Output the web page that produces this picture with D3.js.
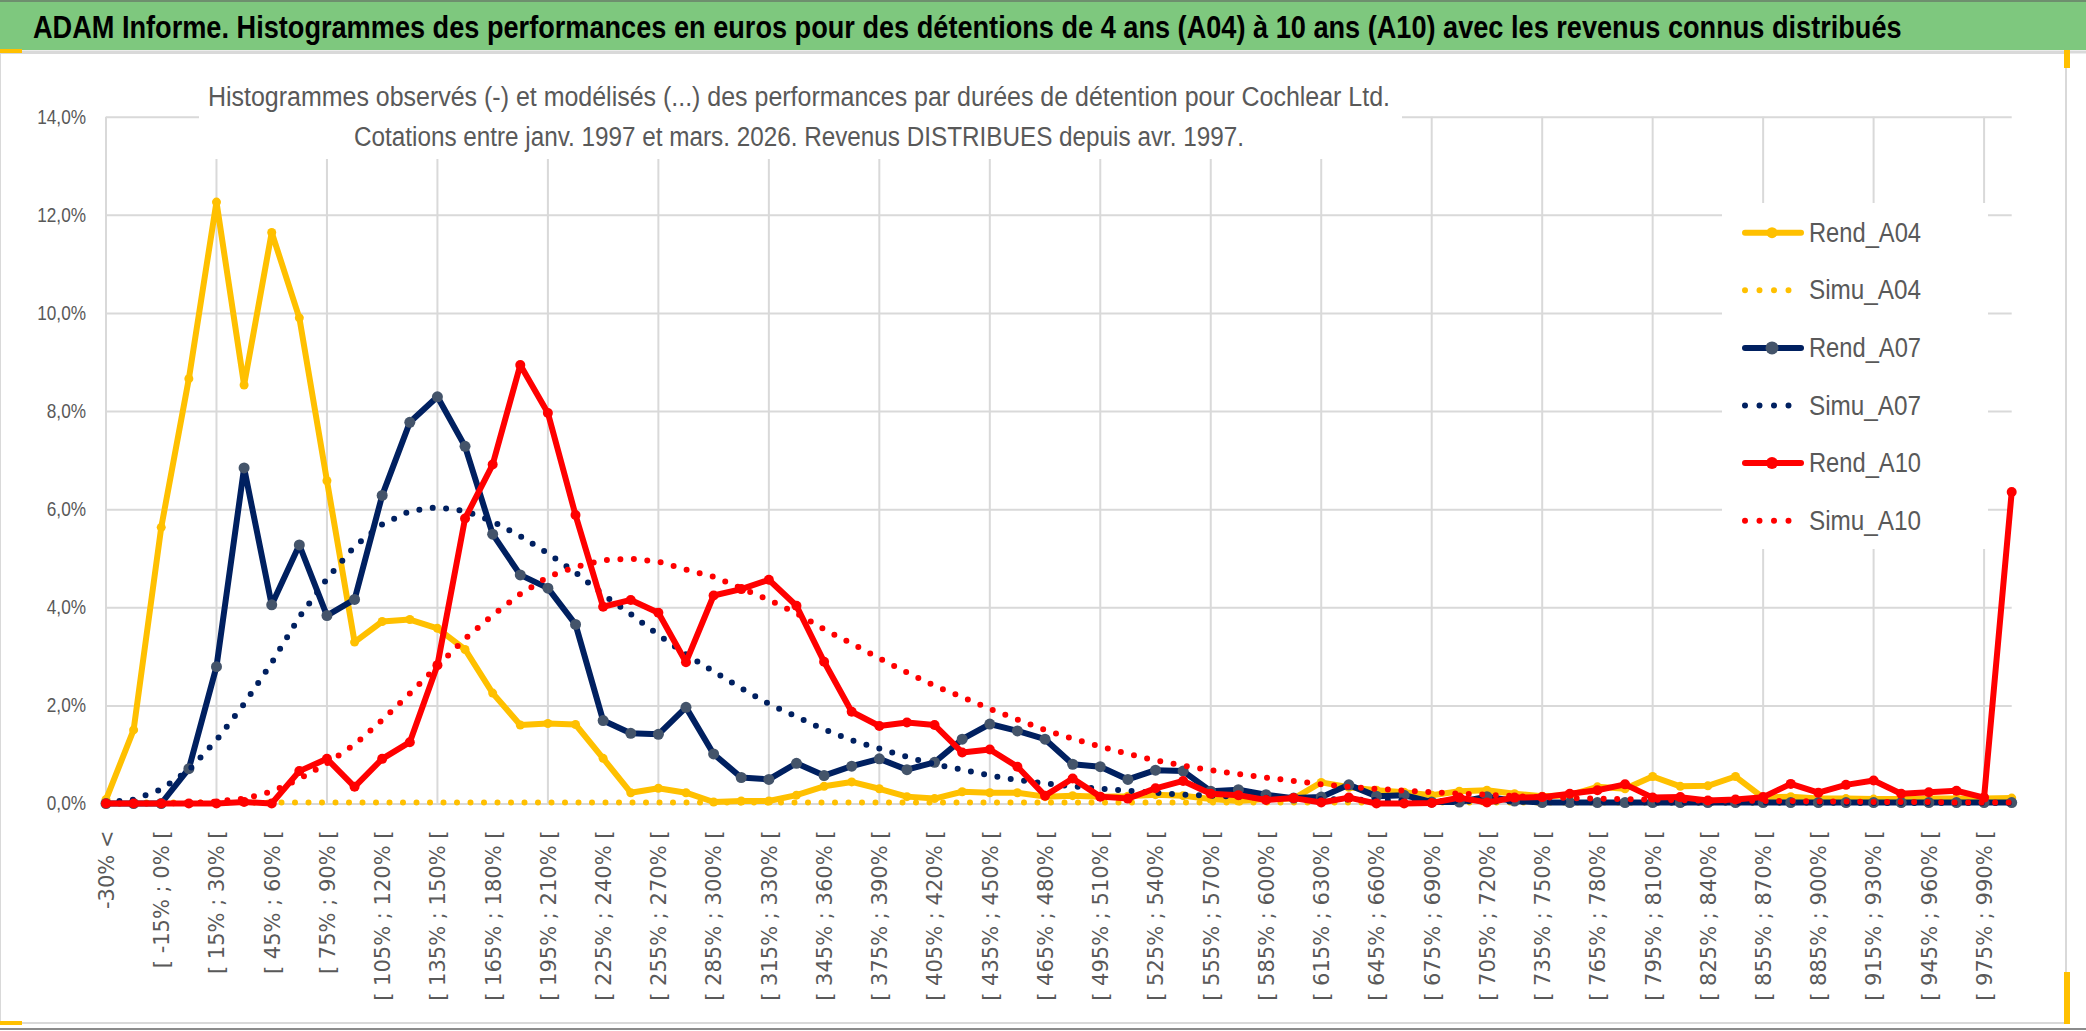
<!DOCTYPE html>
<html>
<head>
<meta charset="utf-8">
<script src="https://cdn.jsdelivr.net/npm/d3@7"></script>
<style>
  body { margin: 0; background: #fff; }
  svg { display: block; }
</style>
</head>
<body>
<div id="vis1"></div>
<script>
// x categories (performance bins)
let categories = [
  "-30% <", "[ -30% ; -15% [", "[ -15% ; 0% [", "[ 0% ; 15% [", "[ 15% ; 30% [", "[ 30% ; 45% [",
  "[ 45% ; 60% [", "[ 60% ; 75% [", "[ 75% ; 90% [", "[ 90% ; 105% [", "[ 105% ; 120% [", "[ 120% ; 135% [",
  "[ 135% ; 150% [", "[ 150% ; 165% [", "[ 165% ; 180% [", "[ 180% ; 195% [", "[ 195% ; 210% [", "[ 210% ; 225% [",
  "[ 225% ; 240% [", "[ 240% ; 255% [", "[ 255% ; 270% [", "[ 270% ; 285% [", "[ 285% ; 300% [", "[ 300% ; 315% [",
  "[ 315% ; 330% [", "[ 330% ; 345% [", "[ 345% ; 360% [", "[ 360% ; 375% [", "[ 375% ; 390% [", "[ 390% ; 405% [",
  "[ 405% ; 420% [", "[ 420% ; 435% [", "[ 435% ; 450% [", "[ 450% ; 465% [", "[ 465% ; 480% [", "[ 480% ; 495% [",
  "[ 495% ; 510% [", "[ 510% ; 525% [", "[ 525% ; 540% [", "[ 540% ; 555% [", "[ 555% ; 570% [", "[ 570% ; 585% [",
  "[ 585% ; 600% [", "[ 600% ; 615% [", "[ 615% ; 630% [", "[ 630% ; 645% [", "[ 645% ; 660% [", "[ 660% ; 675% [",
  "[ 675% ; 690% [", "[ 690% ; 705% [", "[ 705% ; 720% [", "[ 720% ; 735% [", "[ 735% ; 750% [", "[ 750% ; 765% [",
  "[ 765% ; 780% [", "[ 780% ; 795% [", "[ 795% ; 810% [", "[ 810% ; 825% [", "[ 825% ; 840% [", "[ 840% ; 855% [",
  "[ 855% ; 870% [", "[ 870% ; 885% [", "[ 885% ; 900% [", "[ 900% ; 915% [", "[ 915% ; 930% [", "[ 930% ; 945% [",
  "[ 945% ; 960% [", "[ 960% ; 975% [", "[ 975% ; 990% [", "> 990%"
];

// observed and modelled frequencies, in %
let rendA04 = [
  0.08, 1.50, 5.63, 8.66, 12.26, 8.53, 11.64, 9.90, 6.58, 3.29,
  3.71, 3.75, 3.57, 3.14, 2.25, 1.60, 1.63, 1.61, 0.92, 0.22,
  0.31, 0.22, 0.03, 0.05, 0.05, 0.17, 0.35, 0.44, 0.30, 0.14,
  0.10, 0.24, 0.22, 0.22, 0.14, 0.16, 0.14, 0.15, 0.18, 0.16,
  0.09, 0.05, 0.09, 0.10, 0.43, 0.33, 0.27, 0.23, 0.17, 0.25,
  0.27, 0.20, 0.15, 0.17, 0.34, 0.30, 0.55, 0.35, 0.36, 0.55,
  0.12, 0.14, 0.10, 0.10, 0.09, 0.09, 0.10, 0.10, 0.10, 0.11
];
let simuA04 = [
  0.02, 0.02, 0.02, 0.02, 0.02, 0.02, 0.02, 0.02, 0.02, 0.02,
  0.02, 0.02, 0.02, 0.02, 0.02, 0.02, 0.02, 0.02, 0.02, 0.02,
  0.02, 0.02, 0.02, 0.02, 0.02, 0.02, 0.02, 0.02, 0.02, 0.02,
  0.02, 0.02, 0.02, 0.02, 0.02, 0.02, 0.02, 0.02, 0.02, 0.02,
  0.02, 0.02, 0.02, 0.02, 0.02, 0.02, 0.02, 0.02, 0.02, 0.02,
  0.02, 0.02, 0.02, 0.02, 0.02, 0.02, 0.02, 0.02, 0.02, 0.02,
  0.02, 0.02, 0.02, 0.02, 0.02, 0.02, 0.02, 0.02, 0.02, 0.02
];
let rendA07 = [
  0.00, 0.00, 0.00, 0.71, 2.79, 6.84, 4.05, 5.27, 3.83, 4.16,
  6.28, 7.77, 8.29, 7.28, 5.49, 4.66, 4.39, 3.65, 1.69, 1.43,
  1.41, 1.96, 1.01, 0.53, 0.49, 0.82, 0.57, 0.76, 0.91, 0.69,
  0.84, 1.31, 1.62, 1.48, 1.31, 0.80, 0.75, 0.49, 0.68, 0.66,
  0.25, 0.28, 0.18, 0.11, 0.13, 0.38, 0.15, 0.17, 0.03, 0.03,
  0.14, 0.05, 0.02, 0.02, 0.02, 0.02, 0.02, 0.02, 0.02, 0.02,
  0.02, 0.02, 0.02, 0.02, 0.02, 0.02, 0.02, 0.02, 0.02, 0.02
];
let simuA07 = [
  0.02, 0.08, 0.29, 0.68, 1.29, 2.03, 2.87, 3.80, 4.58, 5.24,
  5.69, 5.96, 6.04, 5.96, 5.75, 5.45, 5.10, 4.71, 4.26, 3.86,
  3.44, 3.04, 2.69, 2.35, 2.03, 1.77, 1.51, 1.29, 1.12, 0.95,
  0.80, 0.69, 0.57, 0.48, 0.41, 0.35, 0.30, 0.26, 0.22, 0.18,
  0.16, 0.14, 0.12, 0.10, 0.09, 0.08, 0.07, 0.06, 0.05, 0.05,
  0.04, 0.04, 0.03, 0.03, 0.03, 0.03, 0.02, 0.02, 0.02, 0.02,
  0.02, 0.02, 0.02, 0.01, 0.01, 0.01, 0.01, 0.01, 0.01, 0.01
];
let rendA10 = [
  0.00, 0.00, 0.00, 0.00, 0.00, 0.03, 0.00, 0.66, 0.91, 0.34,
  0.91, 1.25, 2.82, 5.81, 6.91, 8.94, 7.96, 5.88, 4.01, 4.15,
  3.89, 2.88, 4.24, 4.37, 4.56, 4.03, 2.89, 1.87, 1.58, 1.65,
  1.60, 1.04, 1.10, 0.75, 0.16, 0.51, 0.14, 0.10, 0.31, 0.46,
  0.20, 0.17, 0.07, 0.11, 0.02, 0.12, 0.00, 0.00, 0.01, 0.12,
  0.02, 0.12, 0.13, 0.20, 0.27, 0.39, 0.12, 0.13, 0.06, 0.08,
  0.13, 0.40, 0.22, 0.38, 0.47, 0.20, 0.23, 0.26, 0.12, 6.35
];
let simuA10 = [
  0.00, 0.00, 0.00, 0.01, 0.04, 0.10, 0.24, 0.50, 0.82, 1.20,
  1.70, 2.24, 2.80, 3.36, 3.84, 4.27, 4.62, 4.82, 4.96, 4.99,
  4.93, 4.77, 4.62, 4.39, 4.15, 3.88, 3.55, 3.26, 2.96, 2.67,
  2.40, 2.17, 1.93, 1.71, 1.50, 1.32, 1.16, 1.01, 0.88, 0.77,
  0.68, 0.60, 0.53, 0.46, 0.39, 0.34, 0.30, 0.26, 0.23, 0.20,
  0.18, 0.15, 0.13, 0.11, 0.10, 0.09, 0.08, 0.07, 0.06, 0.06,
  0.05, 0.05, 0.04, 0.04, 0.03, 0.03, 0.03, 0.02, 0.02, 0.02
];

let yTicks = [0, 2, 4, 6, 8, 10, 12, 14];
let seriesNames = ["Rend_A04", "Simu_A04", "Rend_A07", "Simu_A07", "Rend_A10", "Simu_A10"];

let titleText = "ADAM Informe. Histogrammes des performances en euros pour des détentions de 4 ans (A04) à 10 ans (A10) avec les revenus connus distribués";
let subtitle1 = "Histogrammes observés (-) et modélisés (...) des performances par durées de détention pour Cochlear Ltd.";
let subtitle2 = "Cotations entre janv. 1997 et mars. 2026. Revenus DISTRIBUES depuis avr. 1997.";

// sizes of the page
let W = 2086, H = 1031;
let plot = { left: 106, right: 2011.7, top: 116.7, bottom: 803.5 };

let sans = "'Liberation Sans', Arial, sans-serif";
let grey = '#595959';

// series table built from the arrays above
let series = [
  { name: seriesNames[0], values: rendA04, color: '#FFC000', marker: '#FFC000', dotted: false, r: 4.5 },
  { name: seriesNames[1], values: simuA04, color: '#FFC000', dotted: true },
  { name: seriesNames[2], values: rendA07, color: '#002060', marker: '#44546A', dotted: false, r: 5.5 },
  { name: seriesNames[3], values: simuA07, color: '#002060', dotted: true },
  { name: seriesNames[4], values: rendA10, color: '#FF0000', marker: '#FF0000', dotted: false, r: 5 },
  { name: seriesNames[5], values: simuA10, color: '#FF0000', dotted: true }
];

// narrows a text (Calibri-like look) by shrinking its drawn length
function squeeze(sel, factor) {
  sel.each(function () {
    let len = this.getComputedTextLength();
    d3.select(this).attr('textLength', len * factor).attr('lengthAdjust', 'spacingAndGlyphs');
  });
}

let svg1 = d3.select('#vis1')
  .append('svg')
  .attr('width', W)
  .attr('height', H)
  .attr('viewBox', [0, 0, W, H].join(' '));

// page background and frame
svg1.append('rect').attr('x', 0).attr('y', 0).attr('width', W).attr('height', H).style('fill', '#fff');
svg1.append('rect')
  .attr('x', 0).attr('y', 53).attr('width', 2066).attr('height', 970)
  .style('fill', '#fff').style('stroke', '#d9d9d9').style('stroke-width', 2);
svg1.append('line').attr('x1', 0).attr('x2', W).attr('y1', 1029).attr('y2', 1029)
  .style('stroke', '#8c8c8c').style('stroke-width', 2);

// green title bar
svg1.append('rect').attr('x', 0).attr('y', 0).attr('width', W).attr('height', 50).style('fill', '#7ec87e');
svg1.append('line').attr('x1', 0).attr('x2', W).attr('y1', 1).attr('y2', 1)
  .style('stroke', '#6e8f6e').style('stroke-width', 2);
svg1.append('line').attr('x1', 0).attr('x2', W).attr('y1', 52).attr('y2', 52)
  .style('stroke', '#d9d9d9').style('stroke-width', 3);

// title, scaled horizontally to the width it has in the picture
let title = svg1.append('text')
  .attr('x', 0).attr('y', 0)
  .style('font-family', sans).style('font-size', '32px').style('font-weight', 'bold')
  .style('fill', '#000')
  .text(titleText);
let titleLen = title.node().getComputedTextLength();
title.attr('transform', `translate(33,38) scale(${1870 / titleLen},1)`);

// little yellow selection handles
svg1.append('rect').attr('x', 0).attr('y', 49).attr('width', 22).attr('height', 4).style('fill', '#FFC000');
svg1.append('rect').attr('x', 2064).attr('y', 50).attr('width', 6).attr('height', 18).style('fill', '#FFC000');
svg1.append('rect').attr('x', 2064).attr('y', 972).attr('width', 6).attr('height', 52).style('fill', '#FFC000');
svg1.append('rect').attr('x', 0).attr('y', 1021).attr('width', 22).attr('height', 4).style('fill', '#FFC000');

// scales
let x = d3.scalePoint()
  .domain(categories)
  .range([plot.left, plot.right]);

let y = d3.scaleLinear()
  .domain([0, 14])
  .range([plot.bottom, plot.top]);

// horizontal gridlines
svg1.append('g')
  .attr('transform', `translate(${plot.left},0)`)
  .call(d3.axisLeft(y).tickValues(yTicks).tickSize(-(plot.right - plot.left)).tickFormat(''))
  .call(g => g.select('.domain').remove())
  .selectAll('line')
  .style('stroke', '#d9d9d9')
  .style('stroke-width', 2);

// vertical gridlines, one every 4 categories
svg1.append('g')
  .selectAll('line')
  .data(categories.filter((d, i) => i % 4 === 0))
  .join('line')
  .attr('x1', d => x(d)).attr('x2', d => x(d))
  .attr('y1', y(14)).attr('y2', y(0))
  .style('stroke', '#d9d9d9')
  .style('stroke-width', 2);

// Y axis labels
svg1.append('g')
  .attr('transform', `translate(${plot.left},0)`)
  .call(d3.axisLeft(y).tickValues(yTicks).tickSize(0).tickPadding(20)
    .tickFormat(d => d3.format('.1f')(d).replace('.', ',') + '%'))
  .call(g => g.select('.domain').remove())
  .selectAll('text')
  .style('font-family', sans)
  .style('font-size', '20px')
  .style('fill', grey)
  .call(squeeze, 0.86);

// X axis labels, every second category, rotated
svg1.append('g')
  .attr('transform', `translate(0,${plot.bottom})`)
  .call(d3.axisBottom(x).tickValues(categories.filter((d, i) => i % 2 === 0)).tickSize(0))
  .call(g => g.select('.domain').remove())
  .selectAll('text')
  .attr('transform', 'rotate(-90)')
  .attr('text-anchor', 'end')
  .attr('x', -27)
  .attr('y', 0)
  .attr('dy', '0.35em')
  .style('font-family', "'DejaVu Sans', Verdana, sans-serif")
  .style('font-size', '21px')
  .style('fill', grey);

// white box behind the subtitle
svg1.append('rect')
  .attr('x', 199).attr('y', 56).attr('width', 1203).attr('height', 103)
  .style('fill', '#fff');

svg1.append('text')
  .attr('x', 799).attr('y', 106)
  .attr('text-anchor', 'middle')
  .attr('textLength', 1182).attr('lengthAdjust', 'spacingAndGlyphs')
  .style('font-family', sans).style('font-size', '27px').style('fill', grey)
  .text(subtitle1);

svg1.append('text')
  .attr('x', 799).attr('y', 146)
  .attr('text-anchor', 'middle')
  .attr('textLength', 890).attr('lengthAdjust', 'spacingAndGlyphs')
  .style('font-family', sans).style('font-size', '27px').style('fill', grey)
  .text(subtitle2);

// white box behind the legend
svg1.append('rect')
  .attr('x', 1722).attr('y', 203).attr('width', 266).attr('height', 346)
  .style('fill', '#fff');

// Draw the lines
let line = d3.line()
  .x((d, i) => x(categories[i]))
  .y(d => y(d));

series.forEach(s => {
  svg1.append('path')
    .datum(s.values)
    .attr('fill', 'none')
    .attr('stroke', s.color)
    .attr('stroke-width', 6)
    .attr('stroke-linecap', 'round')
    .attr('stroke-linejoin', 'round')
    .attr('stroke-dasharray', s.dotted ? '0 13.5' : null)
    .attr('d', line);

  if (!s.dotted) {
    svg1.append('g')
      .selectAll('circle')
      .data(s.values)
      .join('circle')
      .attr('cx', (d, i) => x(categories[i]))
      .attr('cy', d => y(d))
      .attr('r', s.r)
      .style('fill', s.marker);
  }
});

// Legend
let legend = svg1.append('g');
series.forEach((s, i) => {
  let base = 241.7 + i * 57.6;
  let ly = base - 9;
  legend.append('line')
    .attr('x1', 1745).attr('x2', s.dotted ? 1800 : 1801)
    .attr('y1', ly).attr('y2', ly)
    .style('stroke', s.color)
    .style('stroke-width', 6)
    .style('stroke-linecap', 'round')
    .style('stroke-dasharray', s.dotted ? '0 14.5' : null);
  if (!s.dotted) {
    legend.append('circle')
      .attr('cx', 1772).attr('cy', ly).attr('r', s.r + 1)
      .style('fill', s.marker);
  }
  legend.append('text')
    .attr('x', 1809).attr('y', base)
    .attr('textLength', 112).attr('lengthAdjust', 'spacingAndGlyphs')
    .style('font-family', sans)
    .style('font-size', '28px')
    .style('fill', grey)
    .text(s.name);
});
</script>
</body>
</html>
